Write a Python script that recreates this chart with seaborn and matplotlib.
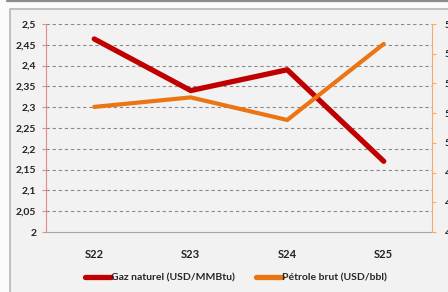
import numpy as np
import pandas as pd
import matplotlib
matplotlib.use('Agg')
import matplotlib.pyplot as plt
from matplotlib.patches import Rectangle
from matplotlib.lines import Line2D
import seaborn as sns

# ---------------- data ----------------
weeks = ['S22', 'S23', 'S24', 'S25']
gaz = [2.464, 2.34, 2.39, 2.17]           # USD/MMBtu (left axis)
petrole = [51.21, 51.53, 50.77, 53.33]    # USD/bbl (right axis)
left_ticks = [2.0, 2.05, 2.1, 2.15, 2.2, 2.25, 2.3, 2.35, 2.4, 2.45, 2.5]
right_ticks = [47, 48, 49, 50, 51, 52, 53, 54]

df = pd.DataFrame({'week': weeks, 'pos': range(len(weeks)), 'gaz': gaz, 'petrole': petrole})

red = '#c00000'
orange = '#ec7413'

sns.set_style('white')
plt.rcParams['font.family'] = ['Lato', 'DejaVu Sans']

fig = plt.figure(figsize=(4.48, 2.92), dpi=100)
fig.patch.set_facecolor('#fbfbfb')
# panel box + top rule (behind the axes)
fig.patches.append(Rectangle((10 / 448, -0.05), 1.0, 1 - 9 / 292 + 0.05, transform=fig.transFigure,
                             facecolor='#f2f2f2', edgecolor='#b5b5b5', linewidth=1.2, zorder=-5))
fig.add_artist(Line2D([7 / 448, 1.0], [1 - 1 / 292, 1 - 1 / 292], transform=fig.transFigure,
                      color='#8c8c8c', linewidth=1.6, zorder=-5))

ax = fig.add_axes([46 / 448, 1 - 232 / 292, (432 - 46) / 448, (232 - 24) / 292])
ax.set_facecolor('none')
ax2 = ax.twinx()
ax2.set_facecolor('none')

sns.lineplot(data=df, x='pos', y='gaz', ax=ax, color=red, linewidth=3.8,
             solid_capstyle='round', zorder=3, legend=False)
sns.lineplot(data=df, x='pos', y='petrole', ax=ax2, color=orange, linewidth=3.0,
             solid_capstyle='round', zorder=3, legend=False)

ax.set_xlim(-0.5, len(weeks) - 0.5)
ax.set_ylim(2.0, 2.5)
ax2.set_ylim(47, 54)

ax.set_yticks(left_ticks)
ax.set_yticklabels([f'{v:g}'.replace('.', ',') for v in left_ticks])
ax2.set_yticks(right_ticks)
ax2.set_yticklabels([str(v) for v in right_ticks])

ax.set_xticks(np.arange(-0.5, len(weeks), 1.0))
ax.set_xticklabels([])
ax.set_xticks(range(len(weeks)), minor=True)
ax.set_xticklabels(weeks, minor=True, fontsize=8, fontweight='bold', color='#222222')
ax.tick_params(axis='x', which='minor', length=0, pad=12)
ax.tick_params(axis='x', which='major', length=3, color='#a6a6a6', direction='out')

ax.tick_params(axis='y', length=3, color='#e08c8c', labelsize=7.5, pad=4, labelcolor='#222222')
for lab in ax.get_yticklabels():
    lab.set_fontweight('bold')
ax2.tick_params(axis='y', length=3, color='#f8aa66', labelsize=7.5, pad=6, labelcolor='#222222')
for lab in ax2.get_yticklabels():
    lab.set_fontweight('bold')

ax.set_xlabel('')
ax.set_ylabel('')
ax2.set_ylabel('')

for a in (ax, ax2):
    for s in a.spines.values():
        s.set_visible(False)
ax.spines['left'].set_visible(True)
ax.spines['left'].set_color('#e08c8c')
ax.spines['bottom'].set_visible(True)
ax.spines['bottom'].set_color('#a6a6a6')
ax2.spines['right'].set_visible(True)
ax2.spines['right'].set_color('#f8aa66')

for v in left_ticks[1:]:
    ax.axhline(v, color='#8a8a8a', linewidth=0.8, linestyle=(0, (3, 2.5)), zorder=1)

handles = [Line2D([], [], color=red, linewidth=3.8), Line2D([], [], color=orange, linewidth=3.8)]
fig.legend(handles, ['Gaz naturel (USD/MMBtu)', 'Pétrole brut (USD/bbl)'],
           loc='center', bbox_to_anchor=(236 / 448, 1 - 278 / 292), ncol=2, frameon=False,
           handlelength=2.5, handletextpad=0.0, columnspacing=2.0,
           prop={'size': 7.5, 'weight': 'bold'})

fig.savefig('out.png', dpi=100, facecolor=fig.get_facecolor())
